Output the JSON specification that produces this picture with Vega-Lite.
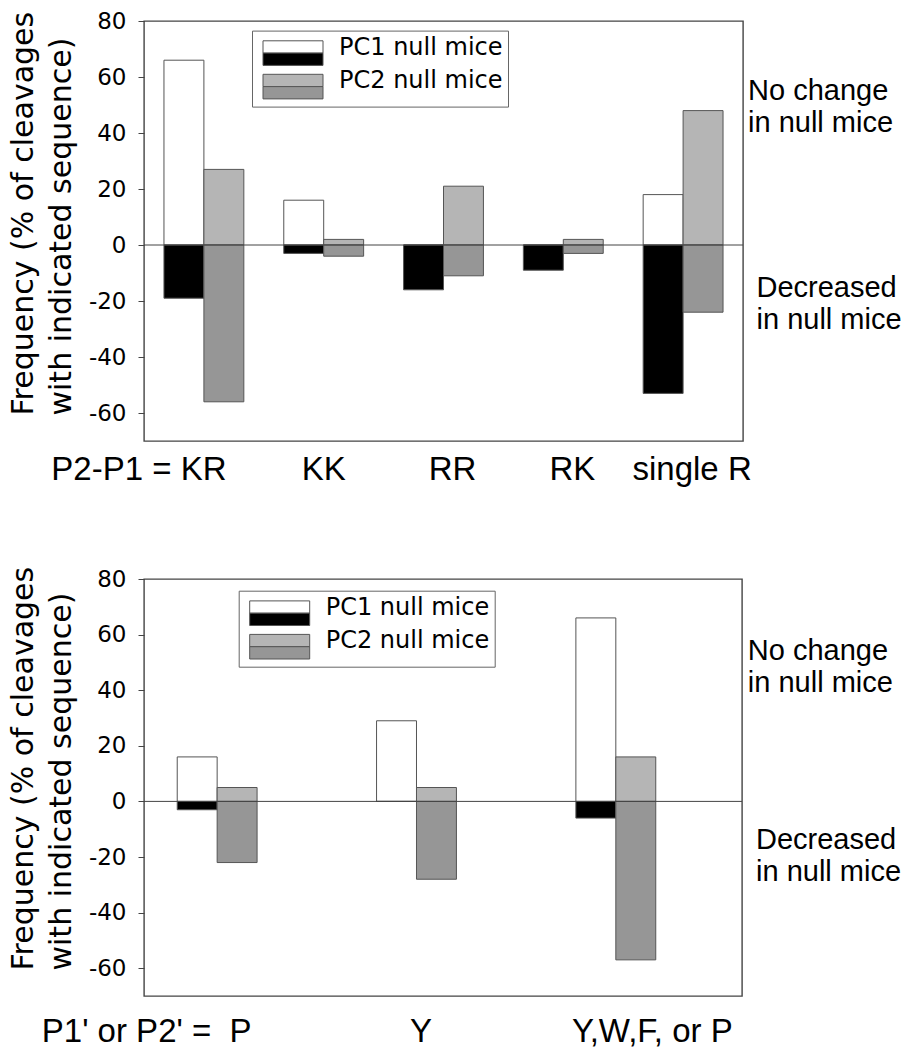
{
  "$schema": "https://vega.github.io/schema/vega-lite/v6.json",
  "background": "white",
  "padding": {"left": 7, "top": 9, "right": 0, "bottom": 0},
  "autosize": {"type": "pad"},
  "spacing": 78,
  "config": {
    "font": "DejaVu Sans",
    "view": {"stroke": "#444444", "strokeWidth": 1.4},
    "axis": {"grid": false}
  },
  "datasets": {
    "top": [
      {"cat": "KR", "series": "PC1 null mice", "dir": "No change", "value": 66},
      {"cat": "KR", "series": "PC1 null mice", "dir": "Decreased", "value": -19},
      {"cat": "KR", "series": "PC2 null mice", "dir": "No change", "value": 27},
      {"cat": "KR", "series": "PC2 null mice", "dir": "Decreased", "value": -56},
      {"cat": "KK", "series": "PC1 null mice", "dir": "No change", "value": 16},
      {"cat": "KK", "series": "PC1 null mice", "dir": "Decreased", "value": -3},
      {"cat": "KK", "series": "PC2 null mice", "dir": "No change", "value": 2},
      {"cat": "KK", "series": "PC2 null mice", "dir": "Decreased", "value": -4},
      {"cat": "RR", "series": "PC1 null mice", "dir": "No change", "value": 0},
      {"cat": "RR", "series": "PC1 null mice", "dir": "Decreased", "value": -16},
      {"cat": "RR", "series": "PC2 null mice", "dir": "No change", "value": 21},
      {"cat": "RR", "series": "PC2 null mice", "dir": "Decreased", "value": -11},
      {"cat": "RK", "series": "PC1 null mice", "dir": "No change", "value": 0},
      {"cat": "RK", "series": "PC1 null mice", "dir": "Decreased", "value": -9},
      {"cat": "RK", "series": "PC2 null mice", "dir": "No change", "value": 2},
      {"cat": "RK", "series": "PC2 null mice", "dir": "Decreased", "value": -3},
      {"cat": "single R", "series": "PC1 null mice", "dir": "No change", "value": 18},
      {"cat": "single R", "series": "PC1 null mice", "dir": "Decreased", "value": -53},
      {"cat": "single R", "series": "PC2 null mice", "dir": "No change", "value": 48},
      {"cat": "single R", "series": "PC2 null mice", "dir": "Decreased", "value": -24}
    ],
    "bottom": [
      {"cat": "P", "series": "PC1 null mice", "dir": "No change", "value": 16},
      {"cat": "P", "series": "PC1 null mice", "dir": "Decreased", "value": -3},
      {"cat": "P", "series": "PC2 null mice", "dir": "No change", "value": 5},
      {"cat": "P", "series": "PC2 null mice", "dir": "Decreased", "value": -22},
      {"cat": "Y", "series": "PC1 null mice", "dir": "No change", "value": 29},
      {"cat": "Y", "series": "PC1 null mice", "dir": "Decreased", "value": 0},
      {"cat": "Y", "series": "PC2 null mice", "dir": "No change", "value": 5},
      {"cat": "Y", "series": "PC2 null mice", "dir": "Decreased", "value": -28},
      {"cat": "Y,W,F, or P", "series": "PC1 null mice", "dir": "No change", "value": 66},
      {"cat": "Y,W,F, or P", "series": "PC1 null mice", "dir": "Decreased", "value": -6},
      {"cat": "Y,W,F, or P", "series": "PC2 null mice", "dir": "No change", "value": 16},
      {"cat": "Y,W,F, or P", "series": "PC2 null mice", "dir": "Decreased", "value": -57}
    ]
  },
  "vconcat": [
    {
      "width": 599,
      "height": 420,
      "data": {"name": "top"},
      "layer": [
        {
          "transform": [{"filter": "datum.dir == 'No change'"}],
          "mark": {"type": "bar", "stroke": "#555555", "strokeWidth": 1},
          "encoding": {
            "x": {
              "field": "cat", "type": "nominal",
              "sort": ["KR", "KK", "RR", "RK", "single R"],
              "scale": {"paddingInner": 0.33333, "paddingOuter": 0.16667},
              "axis": {
                "title": null, "labelAngle": 0, "ticks": false, "domain": false,
                "labelFont": "Liberation Sans", "labelFontSize": 33, "labelColor": "black",
                "labelPadding": 12, "labelLimit": 0, "labelOverlap": false,
                "labelExpr": "datum.value == 'KR' ? 'P2-P1 = KR' : datum.value",
                "labelOffset": {"condition": [{"test": "datum.value == 'KR'", "value": -65}, {"test": "datum.value == 'KK'", "value": 0}], "value": 9}
              }
            },
            "xOffset": {"field": "series", "type": "nominal", "scale": {"paddingInner": 0, "paddingOuter": 0}},
            "y": {
              "field": "value", "type": "quantitative",
              "scale": {"domain": [-70, 80], "nice": false},
              "axis": {
                "values": [-60, -40, -20, 0, 20, 40, 60, 80],
                "labelExpr": "replace(datum.label, '\u2212', '-')",
                "title": ["Frequency (% of cleavages", "with indicated sequence)"],
                "titleFont": "DejaVu Sans", "titleFontSize": 30, "titleFontWeight": "normal",
                "titleColor": "black", "titleLineHeight": 38, "titleAlign": "left",
                "titleY": 394, "titlePadding": 12,
                "labelFont": "DejaVu Sans", "labelFontSize": 23, "labelColor": "black",
                "labelPadding": 12, "tickSize": 6, "tickColor": "#444444", "domain": false
              }
            },
            "fill": {
              "field": "series", "type": "nominal",
              "scale": {"domain": ["PC1 null mice", "PC2 null mice"], "range": ["#ffffff", "#b5b5b5"]},
              "legend": {
                "orient": "none", "legendX": 108, "legendY": 9.6, "title": null, "direction": "vertical",
                "symbolType": "M-0.6,-0.68H5.4V0.55H-0.6Z M-0.6,1.78", "symbolSize": 400,
                "symbolStrokeColor": "#555555", "symbolStrokeWidth": 1, "symbolOpacity": 1,
                "labelFont": "DejaVu Sans", "labelFontSize": 24, "labelColor": "black",
                "labelOffset": 58, "labelLimit": 0, "labelExpr": "datum.label + '\u00a0\u00a0'",
                "padding": 5, "rowPadding": 1.5, "strokeColor": "#666666"
              }
            }
          }
        },
        {
          "transform": [{"filter": "datum.dir == 'Decreased'"}],
          "mark": {"type": "bar", "stroke": "#555555", "strokeWidth": 1},
          "encoding": {
            "x": {
              "field": "cat", "type": "nominal",
              "sort": ["KR", "KK", "RR", "RK", "single R"],
              "scale": {"paddingInner": 0.33333, "paddingOuter": 0.16667},
              "axis": {
                "title": null, "labelAngle": 0, "ticks": false, "domain": false,
                "labelFont": "Liberation Sans", "labelFontSize": 33, "labelColor": "black",
                "labelPadding": 12, "labelLimit": 0, "labelOverlap": false,
                "labelExpr": "datum.value == 'KR' ? 'P2-P1 = KR' : datum.value",
                "labelOffset": {"condition": [{"test": "datum.value == 'KR'", "value": -65}, {"test": "datum.value == 'KK'", "value": 0}], "value": 9}
              }
            },
            "xOffset": {"field": "series", "type": "nominal", "scale": {"paddingInner": 0, "paddingOuter": 0}},
            "y": {"field": "value", "type": "quantitative", "scale": {"domain": [-70, 80], "nice": false}, "axis": null},
            "fill": {
              "field": "series", "type": "nominal",
              "scale": {"domain": ["PC1 null mice", "PC2 null mice"], "range": ["#000000", "#969696"]},
              "legend": {
                "orient": "none", "legendX": 108, "legendY": 9.6, "title": null, "direction": "vertical",
                "symbolType": "M-0.6,-0.68 M-0.6,0.55H5.4V1.78H-0.6Z", "symbolSize": 400,
                "symbolStrokeColor": "#555555", "symbolStrokeWidth": 1, "symbolOpacity": 1,
                "labelFont": "DejaVu Sans", "labelFontSize": 24, "labelColor": "black", "labelOpacity": 0,
                "labelOffset": 58, "labelLimit": 0, "labelExpr": "datum.label + '\u00a0\u00a0'",
                "padding": 5, "rowPadding": 1.5
              }
            }
          }
        },
        {
          "data": {"values": [{}]},
          "mark": {"type": "rule", "color": "#444444", "strokeWidth": 1},
          "encoding": {
            "y": {
              "datum": 0, "type": "quantitative",
              "scale": {"domain": [-70, 80], "nice": false},
              "axis": {
                "orient": "right", "values": [55.2, -15], "title": null,
                "labelExpr": "datum.value > 0 ? ['No change', 'in null mice'] : ['Decreased', 'in null mice']",
                "ticks": false, "tickSize": 0, "domain": false, "grid": false,
                "labelFont": "Liberation Sans", "labelFontSize": 29, "labelColor": "black",
                "labelAlign": "left", "labelBaseline": "middle", "labelLineHeight": 32,
                "labelPadding": {"condition": {"test": "datum.value < 0", "value": 13}, "value": 4.5},
                "labelBound": false, "labelOverlap": false, "labelLimit": 0
              }
            }
          }
        }
      ],
      "resolve": {"scale": {"fill": "independent"}, "axis": {"y": "independent"}}
    },
    {
      "width": 598,
      "height": 417,
      "data": {"name": "bottom"},
      "layer": [
        {
          "transform": [{"filter": "datum.dir == 'No change'"}],
          "mark": {"type": "bar", "stroke": "#555555", "strokeWidth": 1},
          "encoding": {
            "x": {
              "field": "cat", "type": "nominal",
              "sort": ["P", "Y", "Y,W,F, or P"],
              "scale": {"paddingInner": 0.33333, "paddingOuter": 0.16667},
              "axis": {
                "title": null, "labelAngle": 0, "ticks": false, "domain": false,
                "labelFont": "Liberation Sans", "labelFontSize": 33, "labelColor": "black",
                "labelPadding": 19, "labelLimit": 0, "labelOverlap": false,
                "labelExpr": "datum.value == 'P' ? \"P1' or P2' = \u00a0P\" : datum.value",
                "labelOffset": {"condition": [{"test": "datum.value == 'P'", "value": -97}, {"test": "datum.value == 'Y'", "value": -22}], "value": 10}
              }
            },
            "xOffset": {"field": "series", "type": "nominal", "scale": {"paddingInner": 0, "paddingOuter": 0}},
            "y": {
              "field": "value", "type": "quantitative",
              "scale": {"domain": [-70, 80], "nice": false},
              "axis": {
                "values": [-60, -40, -20, 0, 20, 40, 60, 80],
                "labelExpr": "replace(datum.label, '\u2212', '-')",
                "title": ["Frequency (% of cleavages", "with indicated sequence)"],
                "titleFont": "DejaVu Sans", "titleFontSize": 30, "titleFontWeight": "normal",
                "titleColor": "black", "titleLineHeight": 38, "titleAlign": "left",
                "titleY": 391, "titlePadding": 12,
                "labelFont": "DejaVu Sans", "labelFontSize": 23, "labelColor": "black",
                "labelPadding": 12, "tickSize": 6, "tickColor": "#444444", "domain": false
              }
            },
            "fill": {
              "field": "series", "type": "nominal",
              "scale": {"domain": ["PC1 null mice", "PC2 null mice"], "range": ["#ffffff", "#b5b5b5"]},
              "legend": {
                "orient": "none", "legendX": 94.7, "legendY": 11.7, "title": null, "direction": "vertical",
                "symbolType": "M-0.6,-0.68H5.4V0.55H-0.6Z M-0.6,1.78", "symbolSize": 400,
                "symbolStrokeColor": "#555555", "symbolStrokeWidth": 1, "symbolOpacity": 1,
                "labelFont": "DejaVu Sans", "labelFontSize": 24, "labelColor": "black",
                "labelOffset": 58, "labelLimit": 0, "labelExpr": "datum.label + '\u00a0\u00a0'",
                "padding": 5, "rowPadding": 1.5, "strokeColor": "#666666"
              }
            }
          }
        },
        {
          "transform": [{"filter": "datum.dir == 'Decreased'"}],
          "mark": {"type": "bar", "stroke": "#555555", "strokeWidth": 1},
          "encoding": {
            "x": {
              "field": "cat", "type": "nominal",
              "sort": ["P", "Y", "Y,W,F, or P"],
              "scale": {"paddingInner": 0.33333, "paddingOuter": 0.16667},
              "axis": {
                "title": null, "labelAngle": 0, "ticks": false, "domain": false,
                "labelFont": "Liberation Sans", "labelFontSize": 33, "labelColor": "black",
                "labelPadding": 19, "labelLimit": 0, "labelOverlap": false,
                "labelExpr": "datum.value == 'P' ? \"P1' or P2' = \u00a0P\" : datum.value",
                "labelOffset": {"condition": [{"test": "datum.value == 'P'", "value": -97}, {"test": "datum.value == 'Y'", "value": -22}], "value": 10}
              }
            },
            "xOffset": {"field": "series", "type": "nominal", "scale": {"paddingInner": 0, "paddingOuter": 0}},
            "y": {"field": "value", "type": "quantitative", "scale": {"domain": [-70, 80], "nice": false}, "axis": null},
            "fill": {
              "field": "series", "type": "nominal",
              "scale": {"domain": ["PC1 null mice", "PC2 null mice"], "range": ["#000000", "#969696"]},
              "legend": {
                "orient": "none", "legendX": 94.7, "legendY": 11.7, "title": null, "direction": "vertical",
                "symbolType": "M-0.6,-0.68 M-0.6,0.55H5.4V1.78H-0.6Z", "symbolSize": 400,
                "symbolStrokeColor": "#555555", "symbolStrokeWidth": 1, "symbolOpacity": 1,
                "labelFont": "DejaVu Sans", "labelFontSize": 24, "labelColor": "black", "labelOpacity": 0,
                "labelOffset": 58, "labelLimit": 0, "labelExpr": "datum.label + '\u00a0\u00a0'",
                "padding": 5, "rowPadding": 1.5
              }
            }
          }
        },
        {
          "data": {"values": [{}]},
          "mark": {"type": "rule", "color": "#444444", "strokeWidth": 1},
          "encoding": {
            "y": {
              "datum": 0, "type": "quantitative",
              "scale": {"domain": [-70, 80], "nice": false},
              "axis": {
                "orient": "right", "values": [54.4, -13.8], "title": null,
                "labelExpr": "datum.value > 0 ? ['No change', 'in null mice'] : ['Decreased', 'in null mice']",
                "ticks": false, "tickSize": 0, "domain": false, "grid": false,
                "labelFont": "Liberation Sans", "labelFontSize": 29, "labelColor": "black",
                "labelAlign": "left", "labelBaseline": "middle", "labelLineHeight": 32,
                "labelPadding": {"condition": {"test": "datum.value < 0", "value": 13.5}, "value": 5.3},
                "labelBound": false, "labelOverlap": false, "labelLimit": 0
              }
            }
          }
        }
      ],
      "resolve": {"scale": {"fill": "independent"}, "axis": {"y": "independent"}}
    }
  ]
}
